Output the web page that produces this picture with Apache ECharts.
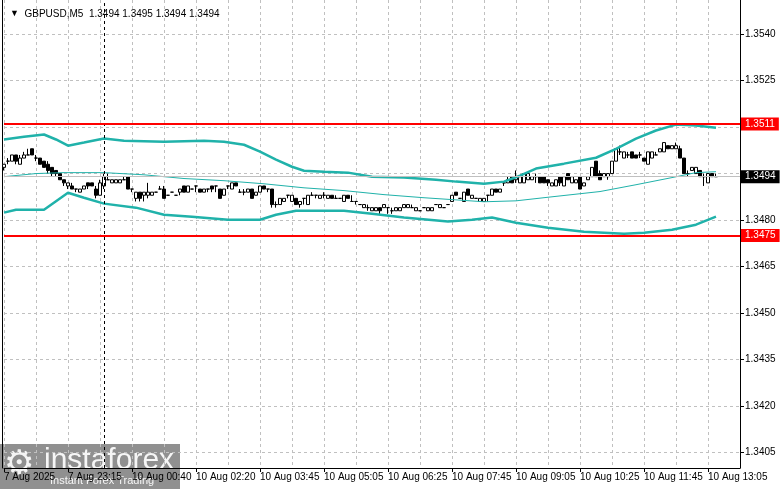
<!DOCTYPE html>
<html>
<head>
<meta charset="utf-8">
<script src="https://cdn.jsdelivr.net/npm/echarts@6/dist/echarts.min.js"></script>
<style>
  html, body { margin: 0; padding: 0; background: #fff; }
  #chart { width: 781px; height: 489px; }
</style>
</head>
<body>
<div id="chart"></div>
<script>
// GBPUSD M5 bars, [open, close, low, high]
const candles = [
  [1.3497,1.3498,1.3496,1.3498],[1.3499,1.3499,1.3498,1.3500],[1.3499,1.3501,1.3499,1.3501],[1.3501,1.3499,1.3498,1.3501],
  [1.3498,1.3500,1.3498,1.3501],[1.3500,1.3501,1.3500,1.3502],[1.3501,1.3501,1.3501,1.3503],[1.3503,1.3501,1.3501,1.3503],
  [1.3500,1.3500,1.3499,1.3501],[1.3500,1.3498,1.3498,1.3500],[1.3499,1.3497,1.3497,1.3499],[1.3498,1.3496,1.3495,1.3499],
  [1.3497,1.3495,1.3494,1.3497],[1.3496,1.3495,1.3494,1.3496],[1.3495,1.3493,1.3493,1.3495],[1.3493,1.3492,1.3491,1.3493],
  [1.3491,1.3492,1.3490,1.3492],[1.3491,1.3490,1.3490,1.3492],[1.3490,1.3490,1.3489,1.3490],[1.3489,1.3490,1.3489,1.3490],
  [1.3490,1.3491,1.3490,1.3491],[1.3492,1.3491,1.3490,1.3492],[1.3492,1.3491,1.3491,1.3492],[1.3490,1.3488,1.3487,1.3491],
  [1.3488,1.3492,1.3488,1.3493],[1.3491,1.3494,1.3490,1.3495],[1.3493,1.3493,1.3493,1.3495],[1.3492,1.3493,1.3492,1.3493],
  [1.3492,1.3493,1.3492,1.3493],[1.3492,1.3493,1.3492,1.3493],[1.3493,1.3493,1.3493,1.3494],[1.3494,1.3490,1.3490,1.3494],
  [1.3490,1.3490,1.3489,1.3490],[1.3487,1.3489,1.3486,1.3489],[1.3489,1.3487,1.3486,1.3489],[1.3488,1.3489,1.3486,1.3489],
  [1.3488,1.3489,1.3487,1.3492],[1.3488,1.3489,1.3488,1.3489],[1.3489,1.3489,1.3489,1.3489],[1.3490,1.3490,1.3490,1.3491],
  [1.3490,1.3487,1.3487,1.3491],[1.3488,1.3488,1.3488,1.3488],[1.3489,1.3489,1.3489,1.3489],[1.3488,1.3488,1.3488,1.3488],
  [1.3489,1.3490,1.3488,1.3490],[1.3491,1.3489,1.3489,1.3491],[1.3489,1.3491,1.3489,1.3491],[1.3490,1.3490,1.3490,1.3490],
  [1.3491,1.3491,1.3489,1.3491],[1.3490,1.3489,1.3489,1.3490],[1.3489,1.3490,1.3489,1.3490],[1.3490,1.3490,1.3489,1.3490],
  [1.3491,1.3490,1.3489,1.3491],[1.3491,1.3491,1.3489,1.3491],[1.3490,1.3487,1.3487,1.3490],[1.3488,1.3490,1.3488,1.3490],
  [1.3491,1.3491,1.3490,1.3491],[1.3490,1.3492,1.3490,1.3492],[1.3492,1.3491,1.3491,1.3492],[1.3489,1.3489,1.3489,1.3490],
  [1.3489,1.3489,1.3488,1.3490],[1.3489,1.3490,1.3489,1.3490],[1.3490,1.3487,1.3487,1.3490],[1.3488,1.3489,1.3488,1.3489],
  [1.3489,1.3491,1.3489,1.3491],[1.3491,1.3490,1.3490,1.3491],[1.3490,1.3490,1.3489,1.3490],[1.3490,1.3485,1.3484,1.3490],
  [1.3485,1.3485,1.3484,1.3486],[1.3485,1.3487,1.3485,1.3487],[1.3486,1.3487,1.3486,1.3487],[1.3488,1.3488,1.3487,1.3488],
  [1.3486,1.3488,1.3486,1.3488],[1.3487,1.3485,1.3485,1.3487],[1.3485,1.3486,1.3484,1.3486],[1.3487,1.3487,1.3485,1.3487],
  [1.3485,1.3488,1.3485,1.3488],[1.3488,1.3488,1.3488,1.3489],[1.3488,1.3488,1.3487,1.3488],[1.3487,1.3488,1.3487,1.3488],
  [1.3488,1.3488,1.3487,1.3489],[1.3487,1.3488,1.3487,1.3488],[1.3488,1.3487,1.3487,1.3488],[1.3487,1.3487,1.3487,1.3488],
  [1.3487,1.3487,1.3487,1.3487],[1.3486,1.3488,1.3486,1.3488],[1.3488,1.3487,1.3487,1.3488],[1.3486,1.3486,1.3486,1.3488],
  [1.3486,1.3486,1.3485,1.3486],[1.3485,1.3485,1.3485,1.3485],[1.3484,1.3485,1.3484,1.3485],[1.3484,1.3484,1.3483,1.3485],
  [1.3483,1.3484,1.3483,1.3484],[1.3483,1.3484,1.3483,1.3484],[1.3484,1.3483,1.3482,1.3484],[1.3484,1.3485,1.3484,1.3485],
  [1.3484,1.3484,1.3482,1.3484],[1.3483,1.3483,1.3482,1.3484],[1.3483,1.3484,1.3483,1.3484],[1.3483,1.3484,1.3483,1.3484],
  [1.3484,1.3485,1.3484,1.3485],[1.3484,1.3485,1.3484,1.3485],[1.3484,1.3484,1.3484,1.3485],[1.3483,1.3484,1.3483,1.3484],
  [1.3483,1.3483,1.3483,1.3483],[1.3484,1.3484,1.3484,1.3484],[1.3483,1.3484,1.3483,1.3484],[1.3483,1.3484,1.3483,1.3484],
  [1.3485,1.3485,1.3485,1.3485],[1.3484,1.3485,1.3484,1.3485],[1.3484,1.3484,1.3484,1.3484],[1.3485,1.3485,1.3485,1.3485],
  [1.3486,1.3488,1.3486,1.3488],[1.3489,1.3488,1.3488,1.3489],[1.3487,1.3487,1.3487,1.3487],[1.3486,1.3489,1.3486,1.3489],
  [1.3490,1.3488,1.3488,1.3490],[1.3487,1.3488,1.3487,1.3488],[1.3487,1.3487,1.3487,1.3487],[1.3486,1.3487,1.3486,1.3487],
  [1.3486,1.3487,1.3486,1.3487],[1.3488,1.3488,1.3486,1.3488],[1.3488,1.3490,1.3488,1.3490],[1.3490,1.3489,1.3489,1.3490],
  [1.3489,1.3490,1.3489,1.3490],[1.3492,1.3492,1.3491,1.3492],[1.3492,1.3493,1.3492,1.3494],[1.3494,1.3492,1.3492,1.3494],
  [1.3493,1.3494,1.3492,1.3496],[1.3492,1.3494,1.3492,1.3494],[1.3492,1.3495,1.3492,1.3495],[1.3493,1.3495,1.3493,1.3495],
  [1.3493,1.3494,1.3493,1.3494],[1.3494,1.3494,1.3492,1.3495],[1.3494,1.3492,1.3492,1.3494],[1.3494,1.3492,1.3492,1.3494],
  [1.3493,1.3492,1.3491,1.3493],[1.3491,1.3492,1.3491,1.3492],[1.3491,1.3493,1.3491,1.3493],[1.3494,1.3492,1.3491,1.3494],
  [1.3491,1.3494,1.3491,1.3494],[1.3495,1.3493,1.3493,1.3495],[1.3492,1.3494,1.3492,1.3494],[1.3492,1.3493,1.3492,1.3493],
  [1.3494,1.3490,1.3490,1.3494],[1.3491,1.3492,1.3491,1.3492],[1.3493,1.3494,1.3493,1.3494],[1.3494,1.3497,1.3494,1.3497],
  [1.3499,1.3494,1.3494,1.3499],[1.3495,1.3493,1.3493,1.3496],[1.3494,1.3495,1.3494,1.3495],[1.3494,1.3495,1.3493,1.3495],
  [1.3495,1.3499,1.3495,1.3499],[1.3499,1.3503,1.3499,1.3503],[1.3502,1.3502,1.3501,1.3504],[1.3500,1.3502,1.3500,1.3502],
  [1.3501,1.3501,1.3500,1.3502],[1.3502,1.3500,1.3500,1.3502],[1.3501,1.3500,1.3500,1.3501],[1.3501,1.3501,1.3500,1.3502],
  [1.3500,1.3499,1.3499,1.3500],[1.3498,1.3502,1.3498,1.3502],[1.3500,1.3502,1.3500,1.3502],[1.3501,1.3501,1.3501,1.3502],
  [1.3502,1.3503,1.3502,1.3503],[1.3502,1.3505,1.3502,1.3505],[1.3504,1.3503,1.3503,1.3504],[1.3503,1.3504,1.3503,1.3504],
  [1.3503,1.3504,1.3503,1.3505],[1.3503,1.3500,1.3500,1.3504],[1.3500,1.3495,1.3495,1.3500],[1.3495,1.3495,1.3494,1.3496],
  [1.3496,1.3497,1.3496,1.3497],[1.3495,1.3497,1.3495,1.3497],[1.3496,1.3494,1.3494,1.3496],[1.3494,1.3494,1.3491,1.3495],
  [1.3492,1.3495,1.3492,1.3495],[1.3495,1.3494,1.3494,1.3495],[1.3494,1.3494,1.3494,1.3495]
];

// Bollinger bands, [bar index, price]
const upperBand = [
  [0,1.35060],[5,1.35069],[10,1.35076],[13,1.35060],[16,1.35040],[20,1.35050],[25,1.35063],[30,1.35056],
  [40,1.35053],[50,1.35056],[55,1.35053],[60,1.35043],[64,1.35021],[68,1.34995],[72,1.34972],[75,1.34959],
  [80,1.34956],[86,1.34953],[92,1.34940],[100,1.34937],[108,1.34930],[113,1.34924],[120,1.34917],[125,1.34924],
  [129,1.34943],[133,1.34966],[140,1.34982],[148,1.35001],[153,1.35030],[158,1.35063],[163,1.35089],[168,1.35108],
  [173,1.35105],[178,1.35098]
];
const middleBand = [
  [0,1.34940],[8,1.34950],[15,1.34953],[25,1.34953],[35,1.34946],[45,1.34934],[55,1.34927],[65,1.34917],
  [75,1.34904],[85,1.34895],[95,1.34882],[105,1.34872],[112,1.34866],[120,1.34859],[128,1.34862],[137,1.34875],
  [149,1.34892],[158,1.34914],[167,1.34937],[173,1.34953],[178,1.34956]
];
const lowerBand = [
  [0,1.34824],[3,1.34833],[10,1.34833],[16,1.34888],[20,1.34872],[25,1.34853],[33,1.34840],[40,1.34817],
  [47,1.34811],[56,1.34801],[64,1.34801],[68,1.34817],[73,1.34830],[85,1.34830],[92,1.34820],[100,1.34808],
  [111,1.34795],[117,1.34801],[122,1.34808],[128,1.34791],[136,1.34775],[145,1.34762],[155,1.34756],[160,1.34759],
  [167,1.34769],[173,1.34785],[178,1.34811]
];

// 179 bars plus the empty chart shift on the right
const categories = Array.from({length: 185}, (_, i) => String(i));
const tickLabels = ['7 Aug 2025', '7 Aug 23:15', '10 Aug 00:40', '10 Aug 02:20', '10 Aug 03:45', '10 Aug 05:05',
  '10 Aug 06:25', '10 Aug 07:45', '10 Aug 09:05', '10 Aug 10:25', '10 Aug 11:45', '10 Aug 13:05'];
const labelStep = 16;
const gridStep = 8;
const priceTicks = [1.3405, 1.3420, 1.3435, 1.3450, 1.3465, 1.3480, 1.3495, 1.3510, 1.3525, 1.3540];
// the terminal hides the scale labels sitting under the level/bid boxes
const priceLabels = [1.3405, 1.3420, 1.3435, 1.3450, 1.3465, 1.3480, 1.3525, 1.3540];
const levels = [1.3511, 1.3475];
const lastPrice = 1.3494;
const separatorBar = 25;

const FONT = 'Liberation Sans';
const chart = echarts.init(document.getElementById('chart'));

// horizontal levels, bid line and the dashed separator
const levelMarks = levels.map(v => ({
  yAxis: v,
  lineStyle: {color: '#ff0000', width: 2, type: 'solid'},
  label: {backgroundColor: '#ff0000', color: '#fff', formatter: v.toFixed(4)}
}));
const bidMark = [{
  yAxis: lastPrice,
  lineStyle: {color: '#c0c0c0', width: 1, type: 'solid'},
  label: {backgroundColor: '#000', color: '#fff', formatter: lastPrice.toFixed(4)}
}];
const separatorMark = [{
  xAxis: separatorBar,
  lineStyle: {color: '#000', width: 1, type: [3, 3]},
  label: {show: false}
}];

const markLabel = {position: 'end', distance: 1, padding: [2, 4, 1, 4], fontSize: 10, fontFamily: FONT};

chart.setOption({
  animation: false,
  backgroundColor: '#fff',
  textStyle: {fontFamily: FONT},
  title: {
    left: 5, top: 4,
    text: '{tri|▼}  GBPUSD,M5  1.3494 1.3495 1.3494 1.3494',
    textStyle: {
      fontSize: 10, fontWeight: 'normal', color: '#000', fontFamily: FONT,
      rich: {tri: {fontSize: 9, color: '#000'}}
    }
  },
  grid: {left: 4, right: 41, top: 0, bottom: 21},
  xAxis: {
    type: 'category',
    data: categories,
    boundaryGap: false,
    axisLine: {show: true, lineStyle: {color: '#000'}},
    axisTick: {show: true, length: 4, interval: i => i % labelStep === 0, lineStyle: {color: '#000'}},
    axisLabel: {
      interval: i => i % labelStep === 0,
      formatter: (v, i) => tickLabels[i / labelStep] || '',
      align: 'left', margin: 4, fontSize: 10, color: '#000'
    },
    splitLine: {show: true, interval: i => i % gridStep === 0, lineStyle: {color: '#c0c0c0', type: [3, 3]}}
  },
  yAxis: [{
    type: 'value',
    position: 'right',
    min: 1.3400, max: 1.3551,
    axisLine: {show: true, lineStyle: {color: '#000'}},
    axisTick: {show: true, length: 4, customValues: priceTicks, lineStyle: {color: '#000'}},
    axisLabel: {customValues: priceLabels, formatter: v => v.toFixed(4), color: '#000', fontSize: 10, margin: 5},
    splitLine: {show: true, lineStyle: {color: '#c0c0c0', type: [3, 3]}}
  }, {
    type: 'value',
    position: 'left',
    offset: 2,
    min: 1.3400, max: 1.3551,
    axisLine: {show: true, lineStyle: {color: '#000'}},
    axisTick: {show: false},
    axisLabel: {show: false},
    splitLine: {show: false}
  }],
  series: [{
    type: 'line', data: [], silent: true,
    markLine: {silent: true, precision: 4, symbol: ['none', 'none'], label: markLabel, data: bidMark.concat(separatorMark)}
  }, {
    type: 'candlestick',
    data: candles,
    barWidth: 3,
    clip: false,
    itemStyle: {color: '#fff', color0: '#000', borderColor: '#000', borderColor0: '#000', borderWidth: 1}
  }, {
    type: 'line', data: upperBand, showSymbol: false, silent: true,
    lineStyle: {color: '#20b2aa', width: 2.5}
  }, {
    type: 'line', data: middleBand, showSymbol: false, silent: true,
    lineStyle: {color: '#20b2aa', width: 1}
  }, {
    type: 'line', data: lowerBand, showSymbol: false, silent: true,
    lineStyle: {color: '#20b2aa', width: 2.5}
  }, {
    type: 'line', data: [], silent: true, z: 5,
    markLine: {silent: true, precision: 4, symbol: ['none', 'none'], label: markLabel, data: levelMarks}
  }],
  graphic: [{
    type: 'group', left: 0, bottom: 0, z: 100,
    children: [
      {type: 'rect', shape: {x: 0, y: 0, width: 180, height: 45}, style: {fill: 'rgba(120,120,120,0.82)'}},
      {type: 'text', x: 4, y: 4, style: {text: '⚙', font: '34px DejaVu Sans', fill: 'rgba(255,255,255,0.9)'}},
      {type: 'text', x: 44, y: 2, style: {text: 'instaforex', font: '30px Liberation Sans', fill: 'rgba(255,255,255,0.92)'}},
      {type: 'text', x: 50, y: 31, style: {text: 'Instant Forex Trading', font: '11px Liberation Sans', fill: 'rgba(255,255,255,0.92)'}}
    ]
  }]
});
</script>
</body>
</html>
